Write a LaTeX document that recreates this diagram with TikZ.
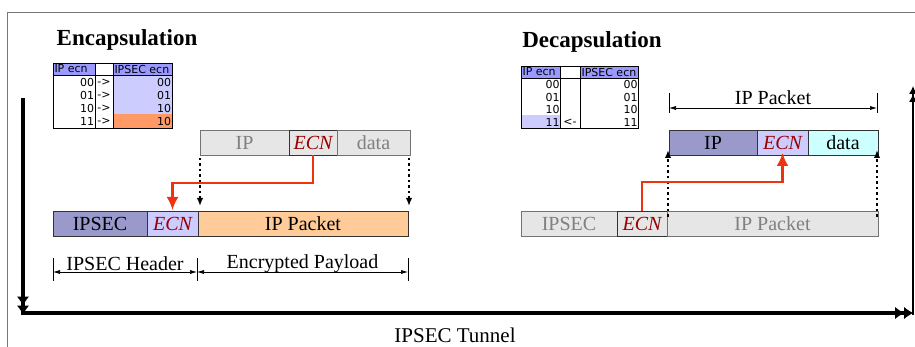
\documentclass[tikz,border=0pt]{standalone}
\usepackage{fontspec}
\setmainfont{Liberation Serif}
\newfontfamily\tabfont{DejaVu Sans}
\usetikzlibrary{arrows.meta}
\definecolor{hdrblue}{HTML}{9999CC}
\definecolor{ecnblue}{HTML}{CCCCFF}
\definecolor{pkorange}{HTML}{FFCC99}
\definecolor{pkcyan}{HTML}{CCFFFF}
\definecolor{pkgray}{HTML}{E6E6E6}
\definecolor{txtgray}{HTML}{808080}
\definecolor{ecnred}{HTML}{990000}
\definecolor{arrred}{HTML}{EE3311}
\definecolor{tabhead}{HTML}{9999FF}
\definecolor{taborange}{HTML}{FF9966}
\definecolor{framegray}{HTML}{777777}
\definecolor{boxline}{HTML}{333333}
\begin{document}
\begin{tikzpicture}[x=1pt,y=-1pt,
  pkbox/.style={draw=boxline, line width=0.8pt, minimum height=25pt, inner sep=0pt, outer sep=0pt, font=\fontsize{20}{22}\selectfont},
  graybox/.style={pkbox, fill=pkgray, draw=black!55, text=txtgray},
  ecntxt/.style={font=\fontsize{20}{22}\selectfont\itshape, text=ecnred},
  dotarrow/.style={line width=1.6pt, dash pattern=on 2.5pt off 3pt, -{Latex[length=8pt,width=6.5pt]}},
  redarrow/.style={draw=arrred, line width=2.2pt, -{Latex[length=13pt,width=12pt]}},
  dimline/.style={line width=0.6pt, {Latex[length=7pt,width=4pt]}-{Latex[length=7pt,width=4pt]}},
  dimtick/.style={line width=0.6pt},
  dimlabel/.style={font=\fontsize{20}{22}\selectfont, inner sep=0pt},
  tabtxt/.style={font=\tabfont\fontsize{11}{13}\selectfont, inner sep=0.8pt},
  tabline/.style={line width=0.8pt},
  tunnel/.style={line width=3.5pt, -{Latex[length=9pt,width=12pt,line width=0pt]Latex[length=9pt,width=12pt,line width=0pt]}},
  thintunnel/.style={line width=1.2pt, -{Latex[length=8pt,width=8pt]Latex[length=8pt,width=8pt]}},
  title/.style={font=\fontsize{23}{26}\selectfont\bfseries, inner sep=0pt}]
\useasboundingbox (0,0) rectangle (915,347);
% frame
\draw[framegray, line width=1pt] (7,347) -- (7,13) -- (915,13);

% titles
\node[title] (enct) at (127,40) {Encapsulation};
\node[title] (dect) at (592,42) {Decapsulation};

% ---- left table ----
\fill[tabhead] (53,63) rectangle (95,75);
\fill[tabhead] (113,63) rectangle (172,75);
\fill[ecnblue] (113,75) rectangle (172,114.5);
\fill[taborange] (113,114.5) rectangle (172,128);
\draw[tabline] (53,63) rectangle (172,128);
\draw[tabline] (53,75) -- (172,75);
\draw[tabline] (95,63) -- (95,128);
\draw[tabline] (113,63) -- (113,128);
\node[tabtxt, anchor=west] (lh1) at (53.5,69) {IP ecn};
\node[tabtxt, anchor=west] (lh3) at (113.5,69) {IPSEC ecn};
\node[tabtxt, anchor=east] (la1) at (95,82) {00};
\node[tabtxt, anchor=east] (la2) at (95,95) {01};
\node[tabtxt, anchor=east] (la3) at (95,108) {10};
\node[tabtxt, anchor=east] (la4) at (95,121) {11};
\node[tabtxt] (lm1) at (104,82) {->};
\node[tabtxt] (lm2) at (104,95) {->};
\node[tabtxt] (lm3) at (104,108) {->};
\node[tabtxt] (lm4) at (104,121) {->};
\node[tabtxt, anchor=east] (lb1) at (172,82) {00};
\node[tabtxt, anchor=east] (lb2) at (172,95) {01};
\node[tabtxt, anchor=east] (lb3) at (172,108) {10};
\node[tabtxt, anchor=east] (lb4) at (172,121) {10};

% ---- right table ----
\fill[tabhead] (521,66) rectangle (560,78);
\fill[tabhead] (580,66) rectangle (638,78);
\fill[ecnblue] (521,115.5) rectangle (560,128);
\draw[tabline] (521,66) rectangle (638,128);
\draw[tabline] (521,78) -- (638,78);
\draw[tabline] (560,66) -- (560,128);
\draw[tabline] (580,66) -- (580,128);
\node[tabtxt, anchor=west] (rh1) at (521.5,72) {IP ecn};
\node[tabtxt, anchor=west] (rh3) at (580.5,72) {IPSEC ecn};
\node[tabtxt, anchor=east] (ra1) at (560.5,84.5) {00};
\node[tabtxt, anchor=east] (ra2) at (560.5,97) {01};
\node[tabtxt, anchor=east] (ra3) at (560.5,109.5) {10};
\node[tabtxt, anchor=east] (ra4) at (560.5,122) {11};
\node[tabtxt] (rm4) at (570,122) {<-};
\node[tabtxt, anchor=east] (rb1) at (638.5,84.5) {00};
\node[tabtxt, anchor=east] (rb2) at (638.5,97) {01};
\node[tabtxt, anchor=east] (rb3) at (638.5,109.5) {10};
\node[tabtxt, anchor=east] (rb4) at (638.5,122) {11};

% ---- encapsulation packets ----
\node[graybox, minimum width=89pt] (eIP) at (244.5,142.5) {IP};
\node[graybox, draw=boxline, minimum width=48pt, ecntxt] (eECN) at (313,142.5) {ECN};
\node[graybox, minimum width=73pt] (eData) at (373.5,142.5) {data};

\node[pkbox, fill=hdrblue, minimum width=94pt] (eIPSEC) at (100,223.5) {IPSEC};
\node[pkbox, fill=ecnblue, minimum width=51pt, ecntxt] (eECN2) at (172.5,223.5) {ECN};
\node[pkbox, fill=pkorange, minimum width=210pt] (ePkt) at (303,223.5) {IP Packet};

\draw[dotarrow] ([yshift=-3pt]eIP.south west) -- ([yshift=5pt]eIP.south west |- ePkt.north);
\draw[dotarrow] ([xshift=-1pt,yshift=-3pt]eData.south east) -- ([xshift=-1pt,yshift=5pt]eData.south east |- ePkt.north);
\draw[redarrow] (eECN.south) -- ++(0,28) -| ([yshift=1pt]eECN2.north);

% dimensions
\coordinate (hA) at (53,272);
\coordinate (hB) at (197,272);
\coordinate (hC) at (408,272);
\draw[dimtick] (53,258) -- (53,281);
\draw[dimtick] (197,258) -- (197,281);
\draw[dimtick] (408,258) -- (408,281);
\draw[dimline] (hA) -- (hB);
\draw[dimline] (hB) -- (hC);
\node[dimlabel] (hdrlab) at (125,264) {IPSEC Header};
\node[dimlabel] (paylab) at (302.5,264) {Encrypted Payload};

% ---- decapsulation packets ----
\node[pkbox, fill=hdrblue, minimum width=88pt] (dIP) at (713,142.5) {IP};
\node[pkbox, fill=ecnblue, minimum width=51pt, ecntxt] (dECN) at (782.5,142.5) {ECN};
\node[pkbox, fill=pkcyan, minimum width=70pt] (dData) at (843,142.5) {data};

\node[graybox, minimum width=96pt] (dIPSEC) at (569,223.5) {IPSEC};
\node[graybox, draw=boxline, minimum width=50pt, ecntxt] (dECN2) at (642,223.5) {ECN};
\node[graybox, minimum width=211pt] (dPkt) at (772.5,223.5) {IP Packet};

\draw[dotarrow] ([xshift=1pt,yshift=-6pt]dPkt.north west) -- ([xshift=1pt,yshift=5pt]dPkt.north west |- dIP.south);
\draw[dotarrow] ([xshift=-1pt,yshift=-6pt]dPkt.north east) -- ([xshift=-1pt,yshift=5pt]dPkt.north east |- dData.south);
\draw[redarrow] (dECN2.north) -- ++(0,-29) -| ([yshift=2pt]dECN.south);

\coordinate (pA) at (669,108);
\coordinate (pB) at (877,108);
\draw[dimtick] (669,93) -- (669,113);
\draw[dimtick] (877,93) -- (877,113);
\draw[dimline] (pA) -- (pB);
\node[dimlabel] (pktlab) at (773,98) {IP Packet};

% ---- tunnel ----
\coordinate (t0) at (23,98);
\coordinate (t1) at (23,313);
\coordinate (t2) at (913,313);
\coordinate (t3) at (913,86);
\draw[tunnel] (t0) -- ([yshift=-1.5pt]t1);
\draw[tunnel] ([xshift=-1.75pt]t1) -- (t2);
\draw[thintunnel] ([yshift=-2pt]t2) -- (t3);
\node[font=\fontsize{21}{24}\selectfont, inner sep=0pt] (tunlab) at (455,335) {IPSEC Tunnel};
\end{tikzpicture}
\end{document}
